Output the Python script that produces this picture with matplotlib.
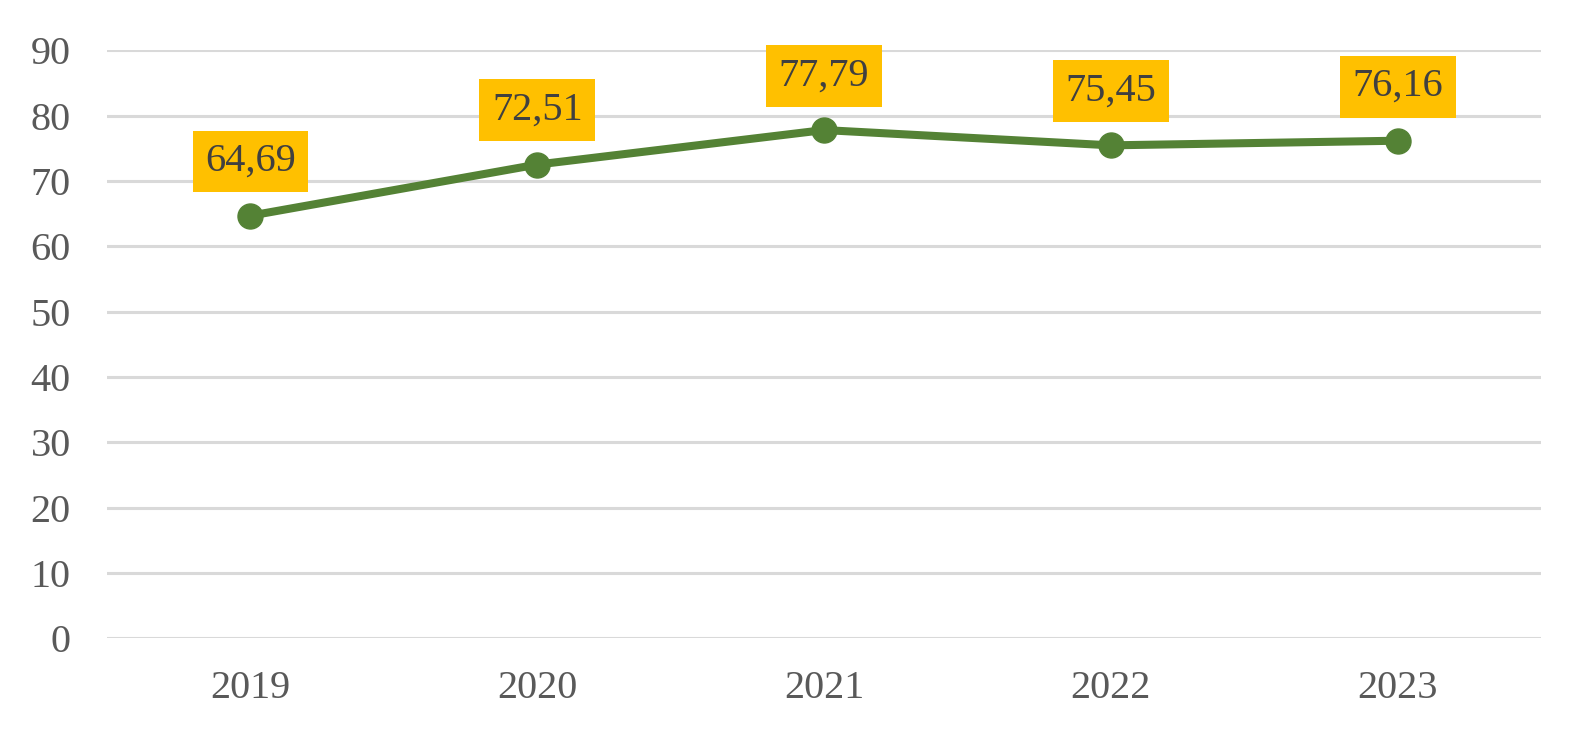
import matplotlib
matplotlib.use("Agg")
import matplotlib.pyplot as plt

years = ["2019", "2020", "2021", "2022", "2023"]
values = [64.69, 72.51, 77.79, 75.45, 76.16]
labels = ["64,69", "72,51", "77,79", "75,45", "76,16"]
yticks = [0, 10, 20, 30, 40, 50, 60, 70, 80, 90]

plt.rcParams['font.family'] = ['Liberation Serif', 'DejaVu Serif']

fig = plt.figure(figsize=(15.92, 7.39), dpi=100)
ax = fig.add_axes([0.0672, 0.136, 0.9008, 0.796])

x = list(range(len(years)))
ax.plot(x, values, color="#548235", linewidth=5.8, marker="o", markersize=18,
        solid_capstyle="round", zorder=3)

for xi, v, lab in zip(x, values, labels):
    ax.annotate(lab, (xi, v), xytext=(0, 39), textcoords="offset points",
                ha="center", va="center", fontsize=29, color="#404040",
                bbox=dict(boxstyle="square,pad=0.31", fc="#FFC000", ec="none"),
                zorder=4)

ax.set_xlim(-0.5, len(years) - 0.5)
ax.set_ylim(0, 90)
ax.set_yticks(yticks)
ax.set_xticks(x)
ax.set_xticklabels(years)
ax.grid(axis="y", color="#D9D9D9", linewidth=2.2)
ax.set_axisbelow(True)
for s in ax.spines.values():
    s.set_visible(False)
ax.tick_params(axis="both", length=0, labelsize=29, colors="#595959")
ax.tick_params(axis="y", pad=26)
ax.tick_params(axis="x", pad=23)

fig.savefig("out.png", dpi=100, facecolor="white")
